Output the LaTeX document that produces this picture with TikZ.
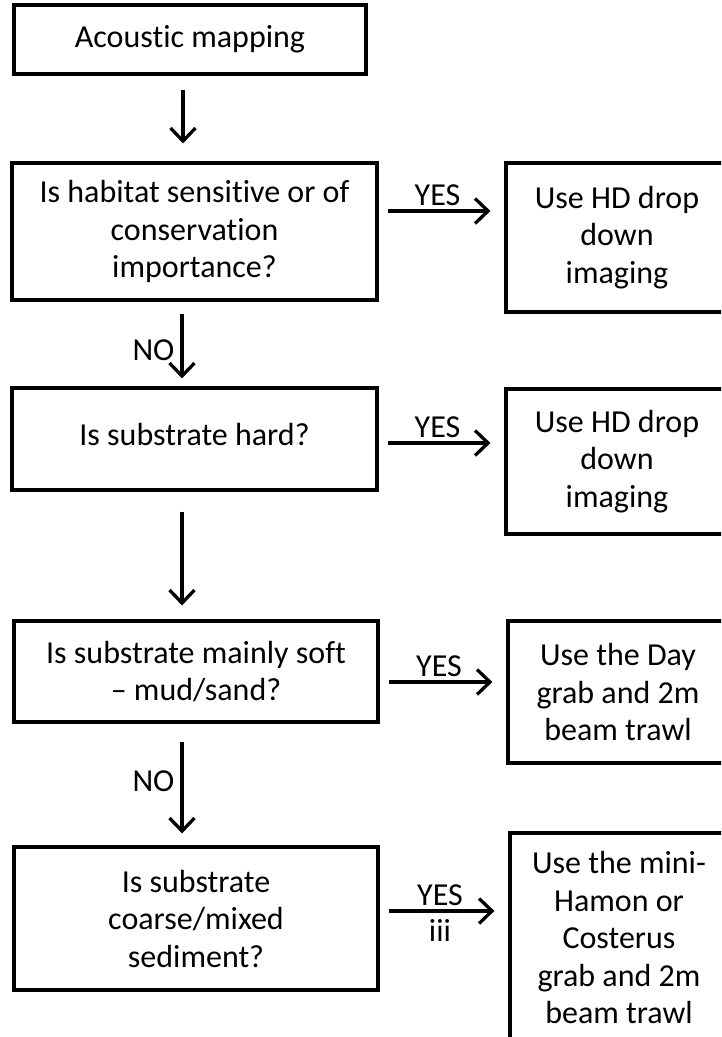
\documentclass[tikz,border=0pt]{standalone}
\usepackage{fontspec}
\setmainfont{Carlito}[Ligatures={NoCommon}]
\usetikzlibrary{arrows.meta}
\tikzset{
  box/.style={draw=black, line width=3.2pt, align=center, inner sep=0pt,
    font=\fontsize{32}{37.5}\selectfont},
  arr/.style={line width=3.3pt, -{Straight Barb[length=13pt,width=25pt]}},
  lab/.style={font=\fontsize{32}{37.5}\selectfont, inner sep=1pt}
}
\begin{document}
\begin{tikzpicture}[x=1pt,y=-1pt]
\useasboundingbox (0,0) rectangle (721,1037);
\begin{scope}
\clip (0,0) rectangle (721,1037);
% left column
\node[box, minimum width=352pt, minimum height=69pt] (a) at (190,39.5) {Acoustic mapping};
\node[box, minimum width=365pt, minimum height=137pt] (q1) at (194.5,231.5) {Is habitat sensitive or of\\conservation\\importance?};
\node[box, minimum width=365pt, minimum height=102pt] (q2) at (194.5,439) {\raisebox{10pt}{Is substrate hard?}};
\node[box, minimum width=364pt, minimum height=101pt] (q3) at (196,671.5) {Is substrate mainly soft\\– mud/sand?};
\node[box, minimum width=364pt, minimum height=143pt] (q4) at (196,918.5) {Is substrate\\coarse/mixed\\sediment?};
% right column
\node[box, minimum width=222pt, minimum height=149pt] (r1) at (617,237.5) {Use HD drop\\down\\imaging};
\node[box, minimum width=222pt, minimum height=145pt] (r2) at (617,461.5) {Use HD drop\\down\\imaging};
\node[box, minimum width=220pt, minimum height=142pt] (r3) at (618,692) {Use the Day\\grab and 2m\\beam trawl};
\node[box, minimum width=218pt, minimum height=209pt] (r4) at (619,937.5) {Use the mini-\\Hamon or\\Costerus\\grab and 2m\\beam trawl};
\end{scope}
% helper coordinates
\coordinate (vx) at (183,0);
\coordinate (vx2) at (182,0);
\coordinate (h1) at (0,211);
\coordinate (h2) at (0,443);
\coordinate (h3) at (0,682);
\coordinate (h4) at (0,911);
% vertical arrows
\draw[arr, shorten <=14pt, shorten >=18pt] (a.south -| vx) -- (q1.north -| vx);
\draw[arr, shorten <=12pt, shorten >=8pt] (q1.south -| vx2) -- node[lab, left, inner sep=6pt, yshift=-6pt] {NO} (q2.north -| vx2);
\draw[arr, shorten <=20pt, shorten >=14pt] (q2.south -| vx2) -- (q3.north -| vx2);
\draw[arr, shorten <=18pt, shorten >=12pt] (q3.south -| vx2) -- node[lab, left, inner sep=6pt, yshift=3.5pt] {NO} (q4.north -| vx2);
% horizontal arrows
\draw[arr, shorten <=9pt, shorten >=14pt] (q1.east |- h1) -- node[lab, above, inner sep=3.5pt, xshift=-4pt] {YES} (r1.west |- h1);
\draw[arr, shorten <=9pt, shorten >=14pt] (q2.east |- h2) -- node[lab, above, inner sep=3.5pt, xshift=-4pt] {YES} (r2.west |- h2);
\draw[arr, shorten <=9pt, shorten >=14pt] (q3.east |- h3) -- node[lab, above, inner sep=3.5pt, xshift=-4pt] {YES} (r3.west |- h3);
\draw[arr, shorten <=9pt, shorten >=14pt] (q4.east |- h4) -- node[lab, above, inner sep=3.5pt, xshift=-4pt] {YES} node[lab, below, inner sep=7pt, xshift=-4pt] {iii} (r4.west |- h4);
\end{tikzpicture}
\end{document}
